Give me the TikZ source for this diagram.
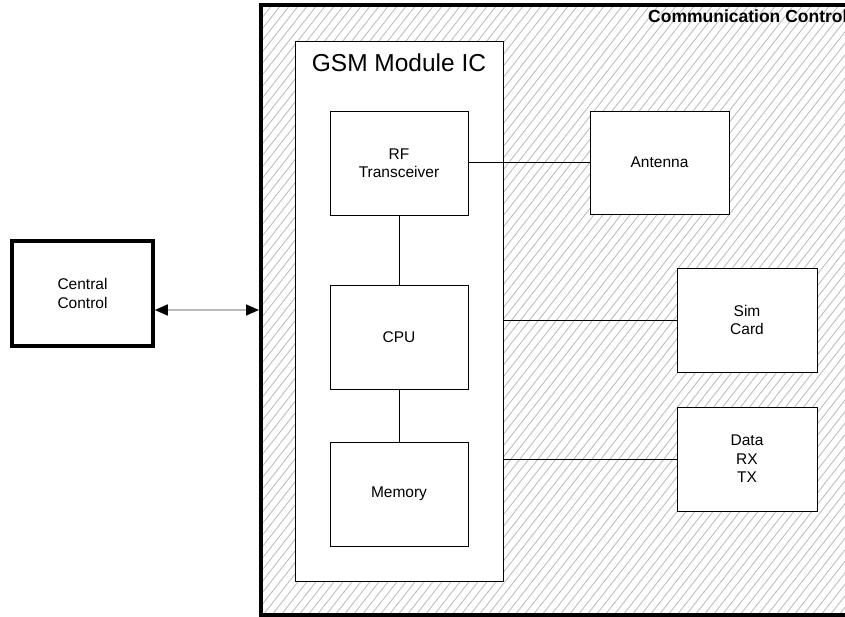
\documentclass[tikz,border=0pt]{standalone}
\usepackage{fontspec}
\setmainfont{Liberation Sans}
\usetikzlibrary{arrows.meta}
\begin{document}
\begin{tikzpicture}[x=1pt,y=-1pt,
  blk/.style={draw=black, line width=0.9pt, fill=white, minimum width=138pt, minimum height=104pt,
    inner sep=0pt, align=center, font=\fontsize{15.5}{18.5}\selectfont},
  thickblk/.style={draw=black, line width=3.5pt, fill=white, minimum width=141pt, minimum height=105pt,
    inner sep=0pt, align=center, font=\fontsize{15.5}{18.5}\selectfont},
  link/.style={draw=black, line width=0.9pt},
  hatch/.style={draw=gray!50, line width=0.9pt},
  biarrow/.style={draw=gray!55, line width=1.4pt,
    {Triangle[length=13pt,width=11pt,color=black]}-{Triangle[length=13pt,width=11pt,color=black]}}
]
\clip (0,0) rectangle (845,617);
\fill[white] (0,0) rectangle (845,617);

% outer hatched container
\begin{scope}
  \clip (261,5) rectangle (900,615);
  \foreach \x in {-520,-511,...,860} {
    \draw[hatch] (\x,615) -- ++(477,-610);
  }
\end{scope}
\node[draw=black, line width=4pt, minimum width=639pt, minimum height=610pt, inner sep=0pt]
  (outer) at (580.5,310) {};
\node[anchor=base west, inner sep=0pt, font=\bfseries\fontsize{17.5}{20}\selectfont] (title) at (648,23) {Communication Control};

% GSM module
\node[draw=black, line width=1pt, fill=white, minimum width=208pt, minimum height=539pt, inner sep=0pt]
  (gsm) at (399,311.5) {};
\node[anchor=base, inner sep=0pt, font=\fontsize{24.5}{28}\selectfont] (gsmlabel) at (399,72) {GSM Module IC};

\node[blk] (rf) at (399,163) {RF\\Transceiver};
\node[blk] (cpu) at (399,337) {CPU};
\node[blk] (mem) at (399,494) {Memory};
\node[blk, minimum width=139pt, minimum height=103pt] (ant) at (659.5,162.5) {Antenna};
\node[blk, minimum width=140pt] (sim) at (747,320) {Sim\\Card};
\node[blk, minimum width=140pt] (data) at (747,459) {Data\\RX\\TX};

\node[thickblk] (central) at (82.5,293.5) {Central\\Control};

% connectors
\draw[link] (rf.east |- ant.west) -- (ant.west);
\draw[link] (rf) -- (cpu);
\draw[link] (cpu) -- (mem);
\draw[link] (gsm.east |- sim.west) -- (sim.west);
\draw[link] (gsm.east |- data.west) -- (data.west);
\draw[biarrow] (central.east |- outer.west) -- (outer.west);
\end{tikzpicture}
\end{document}
